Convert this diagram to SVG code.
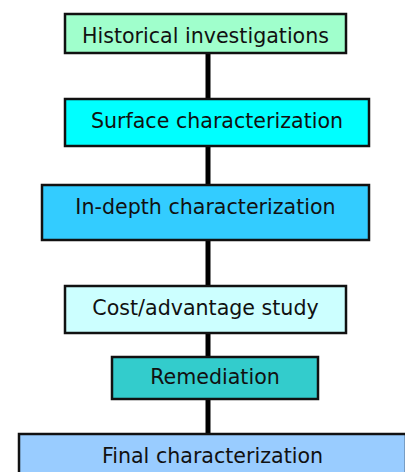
<svg xmlns="http://www.w3.org/2000/svg" width="405" height="472" viewBox="0 0 405 472">
<style>
.box{stroke:#111;stroke-width:2.5}
.t{font-family:"DejaVu Sans",Verdana,sans-serif;font-size:20.6px;fill:#111;text-anchor:middle}
.c{stroke:#000;stroke-width:5;fill:none}
</style>
<rect width="405" height="472" fill="#fff"/>
<g id="connectors">
<line class="c" x1="208" y1="53" x2="208" y2="99"/>
<line class="c" x1="208" y1="146" x2="208" y2="185"/>
<line class="c" x1="208" y1="240" x2="208" y2="286"/>
<line class="c" x1="208" y1="333" x2="208" y2="357"/>
<line class="c" x1="208" y1="399" x2="208" y2="434"/>
</g>
<g id="n1"><rect class="box" x="65" y="14" width="281" height="39" fill="#a0ffcc"/><text class="t" x="205.5" y="43">Historical investigations</text></g>
<g id="n2"><rect class="box" x="65" y="99" width="304" height="47" fill="#00ffff"/><text class="t" x="217" y="128">Surface characterization</text></g>
<g id="n3"><rect class="box" x="42" y="185" width="327" height="55" fill="#33ccff"/><text class="t" x="205.5" y="214">In-depth characterization</text></g>
<g id="n4"><rect class="box" x="65" y="286" width="281" height="47" fill="#ccffff"/><text class="t" x="205.5" y="315">Cost/advantage study</text></g>
<g id="n5"><rect class="box" x="112" y="357" width="206" height="42" fill="#33cccc"/><text class="t" x="215" y="384">Remediation</text></g>
<g id="n6"><rect class="box" x="19" y="434" width="387" height="50" fill="#99ccff"/><text class="t" x="212.5" y="463">Final characterization</text></g>
</svg>
